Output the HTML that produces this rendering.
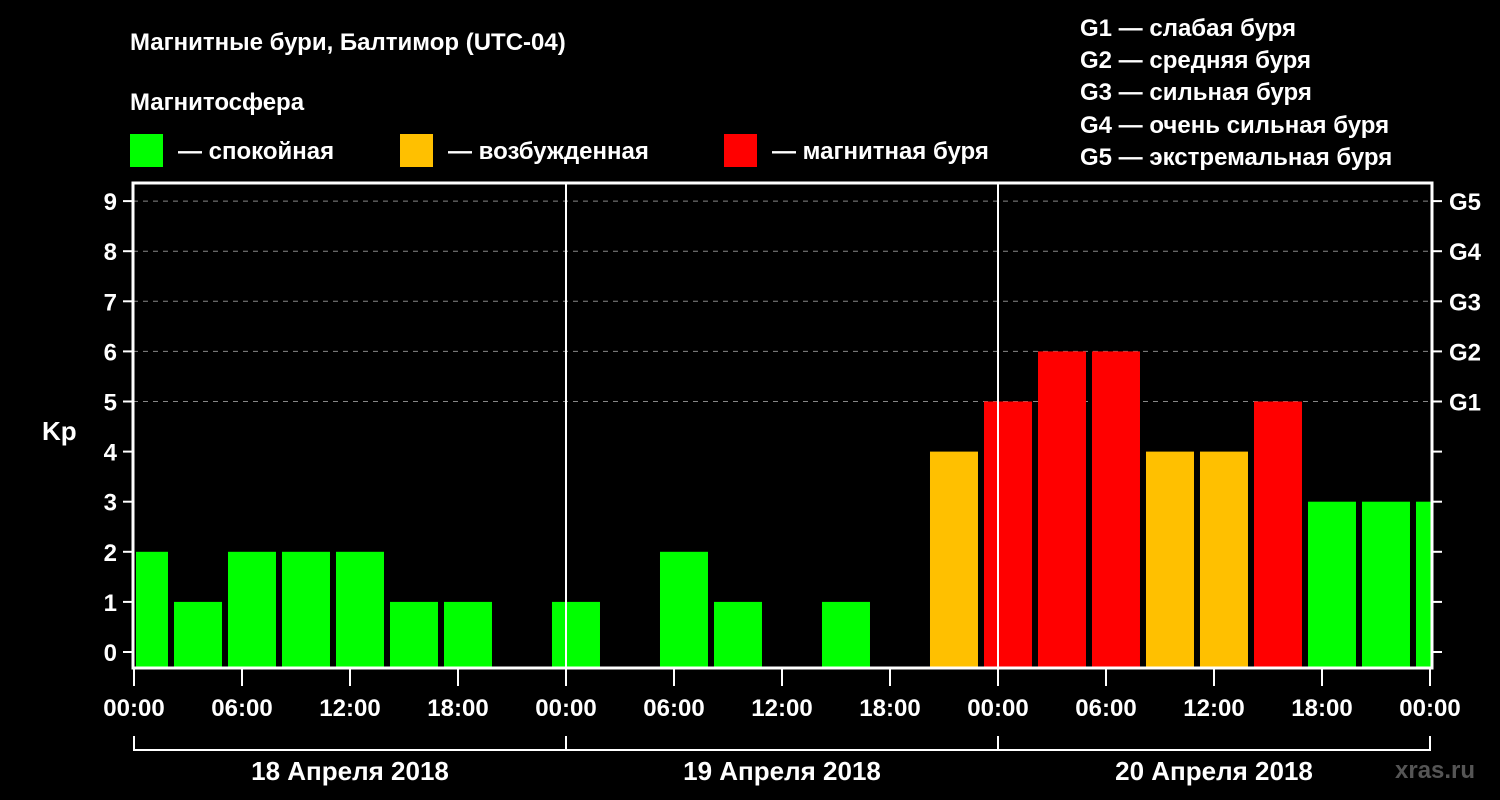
<!DOCTYPE html>
<html><head><meta charset="utf-8"><style>
body{margin:0;background:#000;width:1500px;height:800px;overflow:hidden}
svg{display:block}
text{font-family:"Liberation Sans",sans-serif;font-weight:bold;fill:#fff}
</style></head><body>
<svg id="c" width="1500" height="800">
<text x="130" y="50" font-size="24">Магнитные бури, Балтимор (UTC-04)</text>
<text x="130" y="110" font-size="24">Магнитосфера</text>
<rect x="130" y="134" width="33" height="33" fill="#00ff00"/>
<text x="178" y="159" font-size="24">— спокойная</text>
<rect x="400" y="134" width="33" height="33" fill="#ffc000"/>
<text x="448" y="159" font-size="24">— возбужденная</text>
<rect x="724" y="134" width="33" height="33" fill="#ff0000"/>
<text x="772" y="159" font-size="24">— магнитная буря</text>
<g font-size="24">
<text x="1080" y="36">G1 — слабая буря</text>
<text x="1080" y="68">G2 — средняя буря</text>
<text x="1080" y="100">G3 — сильная буря</text>
<text x="1080" y="133">G4 — очень сильная буря</text>
<text x="1080" y="165">G5 — экстремальная буря</text>
</g>
<text x="42" y="440" font-size="26">Kp</text>
<text x="1395" y="778" font-size="24" fill="#555" style="fill:#555">xras.ru</text>
<g id="plot"></g>
</svg>
<script>
const kpValues=[2,1,2,2,2,1,1,0,1,0,2,1,0,1,0,4,5,6,6,4,4,5,3,3,3];
const yTicks=[0,1,2,3,4,5,6,7,8,9];
const gLabels=["G1","G2","G3","G4","G5"];
const xTickLabels=["00:00","06:00","12:00","18:00","00:00","06:00","12:00","18:00","00:00","06:00","12:00","18:00","00:00"];
const dayLabels=["18 Апреля 2018","19 Апреля 2018","20 Апреля 2018"];
const NS="http://www.w3.org/2000/svg";
const L=133,R=1432,T=183,B=668;
const y=v=>652-v*50.1;
const xh=h=>134+h*18; // hours from start
const g=document.getElementById('plot');
function mk(t,a){const e=document.createElementNS(NS,t);for(const k in a)e.setAttribute(k,a[k]);g.appendChild(e);return e;}
const clip=mk('clipPath',{id:'pc'});const cr=document.createElementNS(NS,'rect');
cr.setAttribute('x',L+3);cr.setAttribute('y',T);cr.setAttribute('width',R-L-4);cr.setAttribute('height',B-T);clip.appendChild(cr);
yTicks.forEach(v=>{
 if(v>0&&v>=5){const l=mk('line',{x1:L,x2:R,y1:y(v),y2:y(v),stroke:'#888','stroke-dasharray':'5,5','stroke-width':1});
 
 }
 const t=mk('line',{x1:L-10,x2:L,y1:y(v),y2:y(v),stroke:'#fff','stroke-width':2});
 
 
 const t2=mk('line',{x1:R,x2:R+10,y1:y(v),y2:y(v),stroke:'#fff','stroke-width':2});
 
 
 const tx=mk('text',{x:L-16,y:y(v)+9,'font-size':24,'text-anchor':'end'});tx.textContent=v;
 
 
});
gLabels.forEach((s,i)=>{const tx=mk('text',{x:R+17,y:y(5+i)+9,'font-size':24});tx.textContent=s;
 
 });
const bg=mk('g',{'clip-path':'url(#pc)'});
kpValues.forEach((v,i)=>{
 if(v<=0)return;
 const c=v>=5?'#ff0000':(v>=4?'#ffc000':'#00ff00');
 const cx=xh(3*i+0.555);
 const r=document.createElementNS(NS,'rect');
 r.setAttribute('x',cx-24);r.setAttribute('width',48);r.setAttribute('y',y(v));r.setAttribute('height',B-y(v));r.setAttribute('fill',c);
 
 
 bg.appendChild(r);
});
[1,2].forEach(d=>{const l=mk('line',{x1:xh(24*d),x2:xh(24*d),y1:T,y2:B,stroke:'#fff','stroke-width':2});
 
 });
const fr=mk('rect',{x:L,y:T,width:R-L,height:B-T,fill:'none',stroke:'#fff','stroke-width':3});


xTickLabels.forEach((s,i)=>{const x=xh(6*i);
 const t=mk('line',{x1:x,x2:x,y1:B,y2:B+18,stroke:'#fff','stroke-width':2});
 
 
 if(i%4===0){const tx=mk('text',{x:x,y:716,'font-size':24,'text-anchor':'middle'});tx.textContent=s;
 
 }
 else{const tx=mk('text',{x:x,y:716,'font-size':24,'text-anchor':'middle'});tx.textContent=s;
 
 }
});
const br=mk('path',{d:`M${xh(0)} 736V750H${xh(72)}V736`,fill:'none',stroke:'#fff','stroke-width':2});


dayLabels.forEach((s,d)=>{
 if(d>0){const l=mk('line',{x1:xh(24*d),x2:xh(24*d),y1:736,y2:750,stroke:'#fff','stroke-width':2});
 
 }
 const tx=mk('text',{x:xh(24*d+12),y:780,'font-size':26,'text-anchor':'middle'});tx.textContent=s;
 
 
});
</script>
</body></html>
